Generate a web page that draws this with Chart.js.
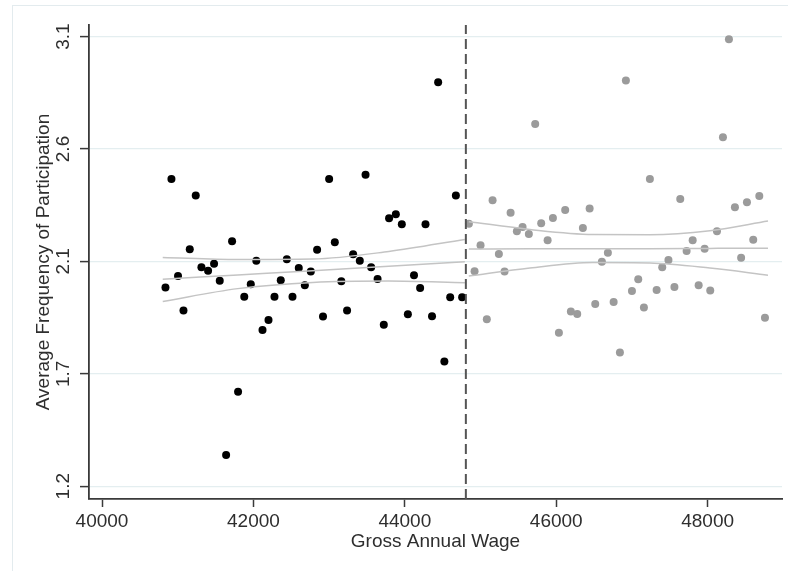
<!DOCTYPE html>
<html>
<head>
<meta charset="utf-8">
<script src="https://cdn.jsdelivr.net/npm/chart.js@4/dist/chart.umd.min.js"></script>
<style>
  body { margin: 0; background: #fff; }
  #wrap { position: relative; width: 788px; height: 571px; overflow: hidden; }
  #frame { position: absolute; left: 12px; top: 5px; width: 900px; height: 700px;
           border-left: 1px solid #e3ebee; border-top: 1px solid #e3ebee; }
  #c { position: absolute; left: 0; top: 0; }
</style>
</head>
<body>
<div id="wrap">
  <div id="frame"></div>
  <canvas id="c" width="788" height="571"></canvas>
</div>
<script>
// Salario (eixo x) e frequencia media (eixo y)
const leftWage = [40838, 40917, 41004, 41076, 41159, 41238, 41313, 41401, 41480, 41555,
    41639, 41718, 41797, 41879, 41965, 42038, 42120, 42199, 42278, 42361,
    42441, 42516, 42599, 42679, 42758, 42841, 42919, 43000, 43075, 43161,
    43237, 43317, 43405, 43481, 43555, 43640, 43722, 43792, 43881, 43960,
    44040, 44121, 44202, 44273, 44359, 44440, 44522, 44599, 44674, 44757];
const leftFreq = [2.040, 2.498, 2.088, 1.943, 2.201, 2.428, 2.125, 2.110, 2.140, 2.068,
    1.332, 2.235, 1.599, 2.001, 2.054, 2.153, 1.860, 1.902, 2.001, 2.070,
    2.159, 2.001, 2.122, 2.049, 2.107, 2.199, 1.917, 2.498, 2.231, 2.066,
    1.943, 2.180, 2.153, 2.516, 2.125, 2.076, 1.882, 2.332, 2.349, 2.307,
    1.927, 2.091, 2.038, 2.307, 1.918, 2.907, 1.727, 1.999, 2.428, 1.999];

const rightWage = [44846, 44921, 45000, 45083, 45159, 45242, 45317, 45397, 45480, 45555,
    45638, 45722, 45801, 45886, 45956, 46035, 46118, 46193, 46277, 46352,
    46441, 46515, 46603, 46682, 46758, 46841, 46920, 47000, 47083, 47158,
    47237, 47326, 47400, 47482, 47561, 47638, 47722, 47802, 47881, 47960,
    48034, 48123, 48202, 48281, 48360, 48442, 48519, 48602, 48682, 48757];
const rightFreq = [2.309, 2.108, 2.218, 1.906, 2.408, 2.181, 2.107, 2.356, 2.277, 2.295,
    2.266, 2.731, 2.311, 2.239, 2.333, 1.849, 2.367, 1.938, 1.928, 2.291,
    2.374, 1.970, 2.149, 2.187, 1.978, 1.765, 2.914, 2.025, 2.075, 1.955,
    2.498, 2.029, 2.125, 2.156, 2.042, 2.414, 2.194, 2.239, 2.049, 2.204,
    2.027, 2.277, 2.675, 3.089, 2.379, 2.165, 2.400, 2.242, 2.426, 1.912];

// Ajuste linear e intervalo de confianca
const leftFitX = [40802, 41793, 42784, 43788, 44793];
const leftFitMid = [2.075, 2.093, 2.111, 2.130, 2.149];
const leftFitHi = [2.167, 2.158, 2.160, 2.192, 2.243];
const leftFitLo = [1.981, 2.035, 2.061, 2.067, 2.060];

const rightFitX = [44845, 45652, 46484, 47237, 48030, 48797];
const rightFitMid = [2.202, 2.203, 2.204, 2.204, 2.205, 2.206];
const rightFitHi = [2.318, 2.285, 2.264, 2.263, 2.280, 2.321];
const rightFitLo = [2.088, 2.122, 2.145, 2.143, 2.122, 2.092];

const cutoff = 44806;

// Eixos
const xMin = 39828, xMax = 48982;
const yMin = 1.146, yMax = 3.149;
const xTicks = [40000, 42000, 44000, 46000, 48000];
const xTickLabels = ["40000", "42000", "44000", "46000", "48000"];
const yTicks = [1.2, 1.675, 2.15, 2.625, 3.1];
const yTickLabels = ["1.2", "1.7", "2.1", "2.6", "3.1"];

const FONT = "'Liberation Sans', Arial, sans-serif";
const TEXT = "#2e2e2e";
const AXIS = "#3a3a3a";

function pts(xs, ys) {
    return xs.map((x, i) => ({ x: x, y: ys[i] }));
}

function fitLine(xs, ys) {
    return {
        data: pts(xs, ys),
        showLine: true,
        borderColor: "#c4c4c4",
        borderWidth: 1.5,
        pointRadius: 0,
        cubicInterpolationMode: "monotone",
        order: 1
    };
}

// Rotulos do eixo y na vertical (estilo Stata)
const yLabelPlugin = {
    id: "yLabels",
    afterDraw(chart) {
        const s = chart.scales.y;
        const ctx = chart.ctx;
        ctx.save();
        ctx.fillStyle = TEXT;
        ctx.font = "19px " + FONT;
        ctx.textAlign = "center";
        ctx.textBaseline = "middle";
        yTicks.forEach((v, i) => {
            const py = s.getPixelForValue(v);
            ctx.save();
            ctx.translate(s.right - 25, py);
            ctx.rotate(-Math.PI / 2);
            ctx.fillText(yTickLabels[i], 0, 0);
            ctx.restore();
        });
        ctx.restore();
    }
};

new Chart(document.getElementById("c"), {
    type: "scatter",
    data: {
        datasets: [
            {
                data: [{ x: cutoff, y: yMin }, { x: cutoff, y: yMax }],
                showLine: true,
                borderColor: "#555",
                borderWidth: 2,
                borderDash: [10, 5],
                pointRadius: 0,
                order: 0
            },
            fitLine(leftFitX, leftFitMid),
            fitLine(leftFitX, leftFitHi),
            fitLine(leftFitX, leftFitLo),
            fitLine(rightFitX, rightFitMid),
            fitLine(rightFitX, rightFitHi),
            fitLine(rightFitX, rightFitLo),
            {
                data: pts(leftWage, leftFreq),
                backgroundColor: "#000",
                borderWidth: 0,
                pointRadius: 4,
                order: 2
            },
            {
                data: pts(rightWage, rightFreq),
                backgroundColor: "#9b9b9b",
                borderWidth: 0,
                pointRadius: 4,
                order: 2
            }
        ]
    },
    options: {
        responsive: false,
        animation: false,
        events: [],
        layout: { padding: { left: 0, top: 25, right: 6, bottom: 0 } },
        plugins: { legend: { display: false }, tooltip: { enabled: false } },
        scales: {
            x: {
                type: "linear",
                min: xMin,
                max: xMax,
                afterBuildTicks: s => { s.ticks = xTicks.map(v => ({ value: v })); },
                afterFit: s => { s.height = 72; },
                grid: { display: true, drawOnChartArea: false, drawTicks: true, tickLength: 8, tickColor: AXIS, tickWidth: 1.5 },
                border: { display: true, color: AXIS, width: 1.8 },
                ticks: {
                    padding: 3,
                    color: TEXT,
                    font: { family: FONT, size: 19 },
                    callback: (v, i) => xTickLabels[i]
                },
                title: {
                    display: true,
                    text: "Gross Annual Wage",
                    color: TEXT,
                    font: { family: FONT, size: 19 },
                    padding: { top: 0, bottom: 18 }
                }
            },
            y: {
                type: "linear",
                min: yMin,
                max: yMax,
                afterBuildTicks: s => { s.ticks = yTicks.map(v => ({ value: v })); },
                afterFit: s => { s.width = 89; },
                grid: { color: "#e4eef0", lineWidth: 1.2, drawTicks: true, tickLength: 9, tickColor: AXIS, tickWidth: 1.5 },
                border: { display: true, color: AXIS, width: 1.8 },
                ticks: { display: false },
                title: {
                    display: true,
                    text: "Average Frequency of Participation",
                    color: TEXT,
                    font: { family: FONT, size: 19 },
                    padding: { top: 32, bottom: 0 }
                }
            }
        }
    },
    plugins: [yLabelPlugin]
});
</script>
</body>
</html>
